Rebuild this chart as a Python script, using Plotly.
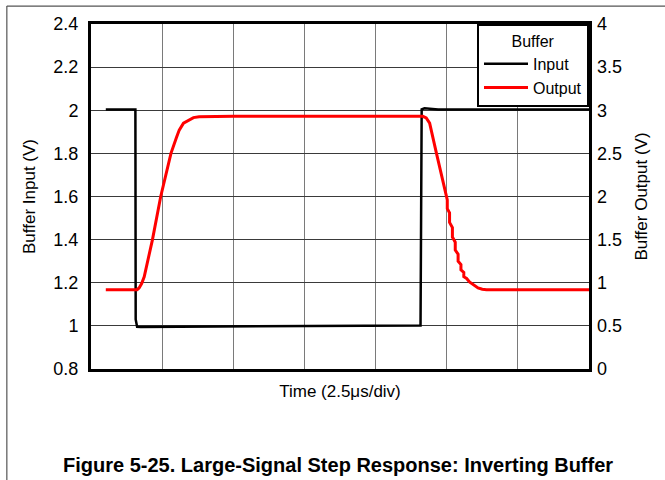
import plotly.graph_objects as go

# Time in microseconds (2.5 us/div, 7 divisions)
input_t = [0.52, 1.56, 1.57, 1.62, 1.75, 4.0, 11.58, 11.6, 11.62, 11.72, 12.2, 17.5]
input_v = [2.004, 2.004, 1.03, 0.996, 0.995, 0.997, 1.002, 1.5, 2.004, 2.009, 2.004, 2.003]

out_t = [0.52, 1.62, 1.69, 1.78, 1.87, 2.0, 2.16, 2.45, 2.81, 3.0, 3.10, 3.25, 3.45, 3.6, 3.80, 5.0, 11.55,
         11.66, 11.78, 11.90, 12.14, 12.3, 12.45, 12.52, 12.52, 12.6, 12.6, 12.7, 12.7, 12.8, 12.8,
         12.9, 12.9, 13.0, 13.0, 13.1, 13.1, 13.2, 13.3, 13.45, 13.6, 13.75, 13.9, 17.5]
out_v = [0.92, 0.92, 0.94, 0.99, 1.07, 1.25, 1.5, 2.0, 2.5, 2.68, 2.77, 2.85, 2.89, 2.915, 2.925, 2.93, 2.93,
         2.93, 2.91, 2.85, 2.5, 2.27, 2.03, 1.96, 1.86, 1.81, 1.70, 1.64, 1.53, 1.47, 1.38,
         1.33, 1.25, 1.21, 1.15, 1.12, 1.07, 1.05, 1.01, 0.97, 0.94, 0.925, 0.92, 0.92]

left_ticks = [0.8, 1.0, 1.2, 1.4, 1.6, 1.8, 2.0, 2.2, 2.4]
right_ticks = [0, 0.5, 1, 1.5, 2, 2.5, 3, 3.5, 4]

FONT = "Liberation Sans, Arial, sans-serif"

fig = go.Figure()
fig.add_trace(go.Scatter(x=input_t, y=input_v, mode="lines", name="Input",
                         line=dict(color="black", width=2.5), yaxis="y"))
fig.add_trace(go.Scatter(x=out_t, y=out_v, mode="lines", name="Output",
                         line=dict(color="#ff0000", width=3), yaxis="y2"))

fig.update_layout(
    width=665, height=480,
    margin=dict(l=91, r=76, t=24, b=111),
    paper_bgcolor="white", plot_bgcolor="white",
    font=dict(family=FONT, size=17, color="black"),
    showlegend=True,
    legend=dict(
        x=1, xanchor="right", y=1, yanchor="top",
        bgcolor="white", bordercolor="black", borderwidth=2,
        title=dict(text="Buffer", side="top center", font=dict(size=16)),
        font=dict(size=16), itemwidth=44, tracegroupgap=0,
    ),
    xaxis=dict(
        range=[0, 17.5], dtick=2.5, tick0=0, showticklabels=False, ticks="",
        showgrid=True, gridcolor="#7a7a7a", gridwidth=1,
        showline=True, linecolor="black", linewidth=3, mirror=True,
        zeroline=False, automargin=False,
        title=dict(text="Time (2.5μs/div)", standoff=15, font=dict(size=17)),
    ),
    yaxis=dict(
        range=[0.8, 2.4], tickvals=left_ticks, ticks="", ticklabelstandoff=6,
        showgrid=True, gridcolor="#3a3a3a", gridwidth=1,
        showline=True, linecolor="black", linewidth=3, mirror=True,
        zeroline=False, tickfont=dict(size=18), automargin=False,
        title=dict(text="Buffer Input (V)", standoff=14, font=dict(size=17)),
    ),
    yaxis2=dict(
        range=[0, 4], tickvals=right_ticks, overlaying="y", side="right", ticks="",
        ticklabelstandoff=7,
        showgrid=False, zeroline=False, showline=False, tickfont=dict(size=18),
        automargin=False,
        title=dict(text="Buffer Output (V)", standoff=14, font=dict(size=17)),
    ),
    shapes=[
        dict(type="line", xref="paper", yref="paper", x0=-0.169, x1=-0.169, y0=-0.35, y1=1.052,
             line=dict(color="#555", width=1.2)),
        dict(type="line", xref="paper", yref="paper", x0=-0.169, x1=1.2, y0=1.052, y1=1.052,
             line=dict(color="#555", width=1.2)),
    ],
    annotations=[
        dict(text="<b>Figure 5-25. Large-Signal Step Response: Inverting Buffer</b>",
             xref="paper", yref="paper", x=0.495, y=-0.278, xanchor="center", yanchor="middle",
             showarrow=False, font=dict(size=20, family=FONT)),
    ],
)

fig.write_html("out.html", config={"displayModeBar": False},
               post_script="document.body.style.margin='0';document.body.style.padding='0';")
